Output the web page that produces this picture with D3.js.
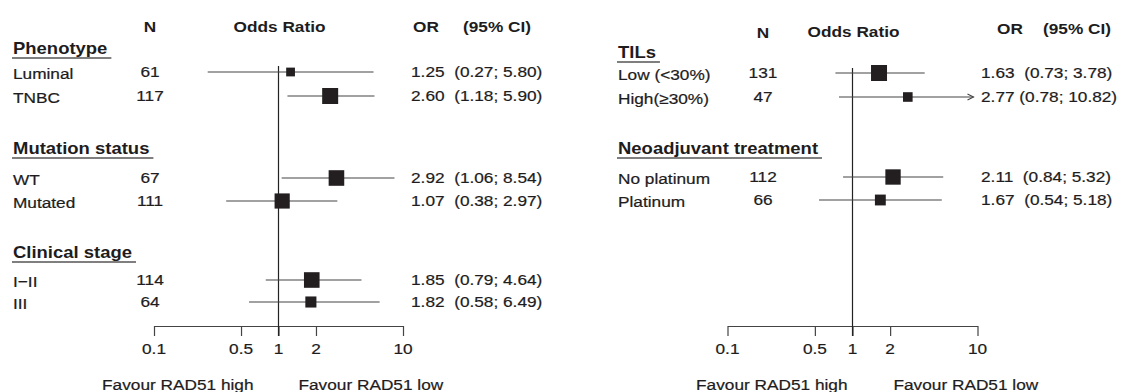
<!DOCTYPE html>
<html><head><meta charset="utf-8">
<script src="https://cdn.jsdelivr.net/npm/d3@7"></script>
<style>
html,body{margin:0;padding:0;background:#fff;}
text{font-family:"Liberation Sans",Arial,sans-serif;fill:#1e1c1d;white-space:pre;}
text.reg{stroke:#1e1c1d;stroke-width:0.22px;}
</style></head>
<body>
<svg id="chart" width="1124" height="392"></svg>
<script>
// ---------- data ----------
const leftGroups   = ["Phenotype", "Mutation status", "Clinical stage"];
const leftLabels   = ["Luminal", "TNBC", "WT", "Mutated", "I\u2212II", "III"];
const leftN        = [61, 117, 67, 111, 114, 64];
const leftOR       = [1.25, 2.60, 2.92, 1.07, 1.85, 1.82];
const leftLo       = [0.27, 1.18, 1.06, 0.38, 0.79, 0.58];
const leftHi       = [5.80, 5.90, 8.54, 2.97, 4.64, 6.49];
const leftWeight   = [0.30, 1.00, 0.95, 0.90, 0.95, 0.48];

const rightGroups  = ["TILs", "Neoadjuvant treatment"];
const rightLabels  = ["Low (<30%)", "High(\u226530%)", "No platinum", "Platinum"];
const rightN       = [131, 47, 112, 66];
const rightOR      = [1.63, 2.77, 2.11, 1.67];
const rightLo      = [0.73, 0.78, 0.84, 0.54];
const rightHi      = [3.78, 10.82, 5.32, 5.18];
const rightWeight  = [1.00, 0.36, 0.92, 0.46];

const tickValues   = [0.1, 0.5, 1, 2, 10];
const headerN = "N", headerOdds = "Odds Ratio", headerOR = "OR", headerCI = "(95% CI)";
const favourHigh = "Favour RAD51 high", favourLow = "Favour RAD51 low";

// ---------- drawing ----------
const svg = d3.select("#chart");
const SX = 1.12, FS = 15.4;
const INK = "#231f20";

function txt(parent, x, y, s, o = {}) {
  const g = parent.append("g").attr("transform", `translate(${x},${y}) scale(${SX},1)`);
  const t = g.append("text")
    .attr("class", o.bold ? "bld" : "reg")
    .attr("text-anchor", o.anchor || "start")
    .attr("dy", "0.35em")
    .style("font-size", (o.size || FS) + "px")
    .style("font-weight", o.bold ? "bold" : "normal")
    .text(s);
  return t;
}
const fmt = d3.format(".2f");

function panel(cfg) {
  const g = svg.append("g");
  const x = d3.scaleLog().domain([0.1, 10]).range(cfg.xRange);
  const side = d3.scaleSqrt().domain([0, 1]).range([0, 16]);
  const x1 = x(1);

  // column headers
  txt(g, cfg.nX, cfg.headY[0], headerN, {anchor: "middle", bold: true});
  txt(g, x1 + 1, cfg.headY[1], headerOdds, {anchor: "middle", bold: true});
  txt(g, cfg.orX + cfg.orHeadOff, cfg.headY[2], headerOR, {bold: true});
  txt(g, cfg.orX + cfg.ciHeadOff, cfg.headY[2], headerCI, {bold: true});

  // group headers with underline
  cfg.groups.forEach((name, i) => {
    const gy = cfg.groupY[i];
    const t = txt(g, cfg.labelX, gy, name, {bold: true, size: 16.5});
    const w = t.node().getComputedTextLength() * SX;
    g.append("line").attr("x1", cfg.labelX - 1).attr("x2", cfg.labelX + w + 4)
      .attr("y1", gy + 10).attr("y2", gy + 10)
      .attr("stroke", "#555").attr("stroke-width", 1.3);
  });

  // axis
  const axisY = cfg.axisY;
  const ax = g.append("g").attr("transform", `translate(0,${axisY})`)
    .call(d3.axisBottom(x).tickValues(tickValues).tickFormat(d => String(d)).tickSize(10).tickSizeOuter(0).tickPadding(6));
  ax.select(".domain").attr("stroke", "#444").attr("stroke-width", 1.2);
  ax.selectAll(".tick line").attr("stroke", "#444").attr("stroke-width", 1.2);
  ax.selectAll(".tick text").remove();
  tickValues.forEach(v => txt(g, x(v), axisY + 23, String(v), {anchor: "middle"}));

  // reference line at 1
  g.append("line").attr("x1", x1).attr("x2", x1).attr("y1", cfg.vTop).attr("y2", axisY + 10)
    .attr("stroke", "#222").attr("stroke-width", 1.2);

  // rows
  cfg.labels.forEach((lab, i) => {
    const y = cfg.rowY[i];
    txt(g, cfg.labelX, y + 2, lab);
    txt(g, cfg.nX, y, String(cfg.n[i]), {anchor: "middle"});
    const clipped = cfg.hi[i] > 10;
    const xe = clipped ? x(10) - 4 : x(cfg.hi[i]);
    g.append("line").attr("x1", x(cfg.lo[i])).attr("x2", xe).attr("y1", y).attr("y2", y)
      .attr("stroke", "#444").attr("stroke-width", 1.1);
    if (clipped) {
      g.append("path").attr("d", `M${xe - 6},${y - 3}L${xe},${y}L${xe - 6},${y + 3}`)
        .attr("fill", "none").attr("stroke", "#444").attr("stroke-width", 1.1);
    }
    const s = side(cfg.w[i]);
    g.append("rect").attr("x", x(cfg.or[i]) - s / 2).attr("y", y - s / 2)
      .attr("width", s).attr("height", s).attr("fill", INK);
    const ci = `(${fmt(cfg.lo[i])}; ${fmt(cfg.hi[i])})`;
    const orTxt = fmt(cfg.or[i]) + (cfg.hi[i] >= 10 ? " " : "  ") + ci;
    txt(g, cfg.orX, y, orTxt);
  });

  // favour labels
  txt(g, x1 - cfg.favOff[0], cfg.favY, favourHigh, {anchor: "end"});
  txt(g, x1 + cfg.favOff[1], cfg.favY, favourLow);
}

panel({
  groups: leftGroups, labels: leftLabels, n: leftN, or: leftOR, lo: leftLo, hi: leftHi, w: leftWeight,
  xRange: [154, 403], labelX: 13, nX: 150, orX: 411, orHeadOff: 2, ciHeadOff: 52, headY: [27, 27, 27],
  groupY: [48, 148, 252], rowY: [72, 96, 178, 201, 280, 302],
  axisY: 326, vTop: 66, favY: 385, favOff: [25, 20]
});
panel({
  groups: rightGroups, labels: rightLabels, n: rightN, or: rightOR, lo: rightLo, hi: rightHi, w: rightWeight,
  xRange: [727.5, 977.5], labelX: 618, nX: 763, orX: 981, orHeadOff: 16, ciHeadOff: 62, headY: [33, 32, 29],
  groupY: [52, 148], rowY: [73, 97, 177, 200],
  axisY: 326, vTop: 68, favY: 385, favOff: [5, 41]
});
</script>
</body></html>
